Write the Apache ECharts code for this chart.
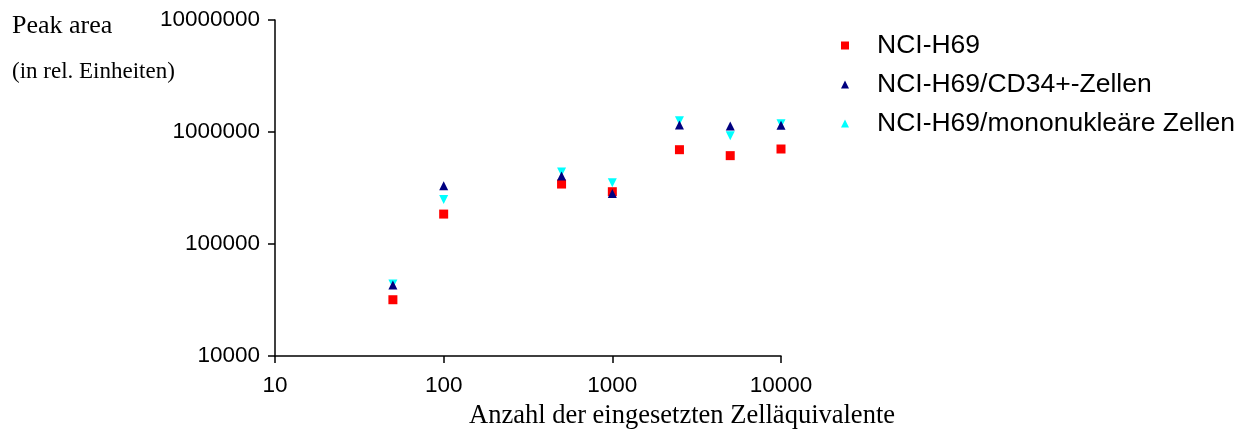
<!DOCTYPE html>
<html>
<head>
<meta charset="utf-8">
<script src="https://cdn.jsdelivr.net/npm/echarts@6/dist/echarts.min.js"></script>
<style>
html,body{margin:0;padding:0;background:#fff;}
#chart{width:1250px;height:433px;}
</style>
</head>
<body>
<div id="chart"></div>
<script>
var cells = [50, 100, 500, 1000, 2500, 5000, 10000];
var seriesNames = ['NCI-H69', 'NCI-H69/CD34+-Zellen', 'NCI-H69/mononukleäre Zellen'];
var h69 = [31800, 185000, 343000, 293000, 695000, 615000, 705000];
var h69cd34 = [43000, 332000, 405000, 283000, 1155000, 1132000, 1148000];
var h69mono = [44000, 250000, 440000, 353000, 1262000, 927000, 1186000];
var xTicks = [10, 100, 1000, 10000];
var yTicks = [10000, 100000, 1000000, 10000000];

function pairs(ys){ return cells.map(function(x,i){ return [x, ys[i]]; }); }

var chart = echarts.init(document.getElementById('chart'), null, {renderer:'canvas'});
var sans = 'Liberation Sans, Arial, sans-serif';
var serif = 'Liberation Serif, Times New Roman, serif';
chart.setOption({
  animation:false,
  backgroundColor:'#fff',
  grid:{left:275, right:469, top:20, bottom:77, containLabel:false},
  xAxis:{
    type:'log', logBase:10, min:xTicks[0], max:xTicks[xTicks.length-1],
    axisLine:{show:true, onZero:false, lineStyle:{color:'#000', width:1.5}},
    axisTick:{show:true, length:7, lineStyle:{color:'#000', width:1.5}},
    minorTick:{show:false},
    splitLine:{show:false},
    axisLabel:{color:'#000', fontFamily:sans, fontSize:22.5, margin:18,
      formatter:function(v){ return String(Math.round(v)); }}
  },
  yAxis:{
    type:'log', logBase:10, min:yTicks[0], max:yTicks[yTicks.length-1],
    axisLine:{show:true, onZero:false, lineStyle:{color:'#000', width:1.5}},
    axisTick:{show:true, length:7, lineStyle:{color:'#000', width:1.5}},
    splitLine:{show:false},
    axisLabel:{color:'#000', fontFamily:sans, fontSize:22.5, margin:15,
      formatter:function(v){ return String(Math.round(v)); }}
  },
  legend:{
    orient:'vertical', left:836, top:27,
    itemWidth:8, itemHeight:8, itemGap:12,
    symbolKeepAspect:true,
    textStyle:{color:'#000', fontFamily:sans, fontSize:26.5, lineHeight:26, padding:[0,0,0,23]},
    data:seriesNames
  },
  graphic:[
    {type:'text', x:12, y:26, style:{text:'Peak area', font:'26px ' + serif, fill:'#000', textAlign:'left', textVerticalAlign:'middle'}},
    {type:'text', x:12, y:72, style:{text:'(in rel. Einheiten)', font:'23px ' + serif, fill:'#000', textAlign:'left', textVerticalAlign:'middle'}},
    {type:'text', x:682, y:416, style:{text:'Anzahl der eingesetzten Zelläquivalente', font:'26.5px ' + serif, fill:'#000', textAlign:'center', textVerticalAlign:'middle'}}
  ],
  series:[
    {name:seriesNames[0], type:'scatter', symbol:'rect', symbolSize:9, itemStyle:{color:'#ff0000', opacity:1}, data:pairs(h69), z:3},
    {name:seriesNames[1], type:'scatter', symbol:'triangle', symbolSize:9, itemStyle:{color:'#000080', opacity:1}, data:pairs(h69cd34), z:4},
    {name:seriesNames[2], type:'scatter', symbol:'triangle', symbolRotate:180, symbolSize:9, itemStyle:{color:'#00ffff', opacity:1}, data:pairs(h69mono), z:2}
  ]
});
</script>
</body>
</html>
